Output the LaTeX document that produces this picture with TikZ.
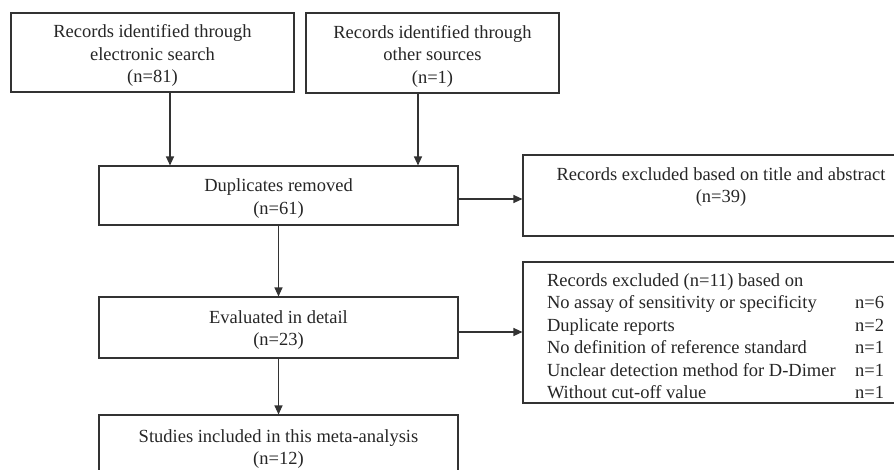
\documentclass[tikz,border=0pt]{standalone}
\usepackage{fontspec}
\setmainfont{Liberation Serif}
\usetikzlibrary{arrows.meta}
\newcommand{\boxtxt}[2]{\raisebox{-#1}[\height][\depth]{\begin{tabular}{@{}c@{}}#2\end{tabular}}}
\begin{document}
\begin{tikzpicture}[x=1pt,y=-1pt,
  box/.style={draw=black!80,line width=1.1pt,inner sep=0pt,
    font=\fontsize{18.5}{22.5}\selectfont,text=black!85},
  arr/.style={draw=black!80,line width=1.1pt,-{Triangle[length=9pt,width=8pt]}}]
\useasboundingbox (0,0) rectangle (894,469);
\clip (0,0) rectangle (894,469);
\node[box,minimum width=283pt,minimum height=79pt] (b1) at (152.5,52.5)
  {\boxtxt{3pt}{Records identified through\\electronic search\\(n=81)}};
\node[box,minimum width=253pt,minimum height=80pt] (b2) at (432.5,53)
  {\boxtxt{3pt}{Records identified through\\other sources\\(n=1)}};
\node[box,minimum width=359pt,minimum height=59pt] (b3) at (278.5,195.5)
  {\boxtxt{3pt}{Duplicates removed\\(n=61)}};
\node[box,minimum width=396pt,minimum height=81pt] (b4) at (721,195.5)
  {\boxtxt{2.5pt}{Records excluded based on title and abstract\\(n=39)\\\mbox{}}};
\node[box,minimum width=396pt,minimum height=141pt] (b5) at (721,332.5)
  {\raisebox{-5.5pt}[\height][\depth]{\begin{tabular*}{337pt}{@{}l@{\extracolsep{\fill}}r@{}}
   Records excluded (n=11) based on & \\
   No assay of sensitivity or specificity & n=6\\
   Duplicate reports & n=2\\
   No definition of reference standard & n=1\\
   Unclear detection method for D-Dimer & n=1\\
   Without cut-off value & n=1
   \end{tabular*}}\hspace*{11pt}};
\node[box,minimum width=359pt,minimum height=61pt] (b6) at (278.5,327.5)
  {\boxtxt{2.5pt}{Evaluated in detail\\(n=23)}};
\node[box,minimum width=359pt,minimum height=66pt] (b7) at (278.5,448)
  {\boxtxt{1pt}{Studies included in this meta-analysis\\(n=12)}};
\draw[arr] ([xshift=17.5pt]b1.south) -- ([xshift=17.5pt]b1.south |- b3.north);
\draw[arr] ([xshift=-14.5pt]b2.south) -- ([xshift=-14.5pt]b2.south |- b3.north);
\draw[arr] ([yshift=-3.5pt]b3.east) -- ([yshift=-3.5pt]b3.east -| b4.west);
\draw[arr] (b3.south) -- (b6.north);
\draw[arr] ([yshift=-4.5pt]b6.east) -- ([yshift=-4.5pt]b6.east -| b5.west);
\draw[arr] (b6.south) -- (b7.north);
\end{tikzpicture}
\end{document}
